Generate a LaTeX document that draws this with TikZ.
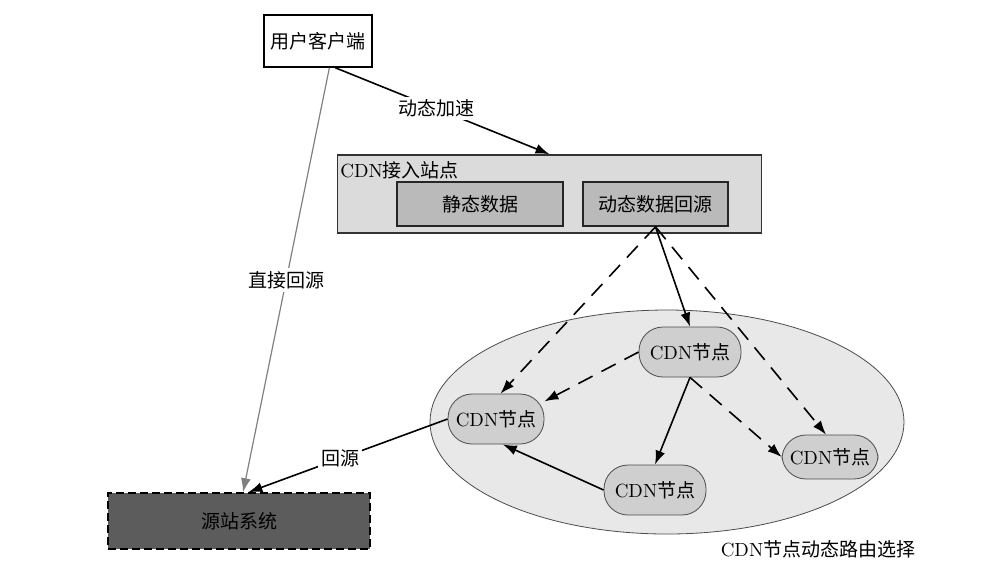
\documentclass[tikz,border=0pt]{standalone}
\usepackage{fontspec}
\newfontfamily\cjk{Noto Sans CJK SC}
\usetikzlibrary{shapes.geometric,arrows.meta}
\begin{document}
\begin{tikzpicture}[x=0.5pt,y=-0.5pt,
        every node/.style={font=\fontsize{9.5}{11}\selectfont},
        plainbox/.style={rectangle, draw=black, thick, fill=white, minimum width=53pt, minimum height=26pt},
        sitebox/.style={rectangle, draw=black!80, thick, fill=black!14, minimum width=212pt, minimum height=39pt},
        databox/.style={rectangle, draw=black!85, thick, fill=black!27, minimum height=22pt},
        cdnnode/.style={rectangle, rounded corners=12pt, draw=black!70, fill=black!19, minimum width=49pt, minimum height=25pt},
        netcloud/.style={ellipse, draw=black!70, fill=black!9, minimum width=237pt, minimum height=112pt, inner sep=0pt},
        originbox/.style={rectangle, draw=black, thick, dashed, dash pattern=on 4pt off 2pt, fill=black!64, minimum width=131pt, minimum height=28pt},
        tip/.style={-{Latex[length=7pt,width=5pt]}},
        dashlink/.style={tip, thick, dash pattern=on 8pt off 5pt},
        onlabel/.style={fill=white, inner sep=1.5pt},
    ]
        \useasboundingbox (0,0) rectangle (1000,570);

        %Nodes
        \node[plainbox] (user) at (318,41) {\cjk 用户客户端};

        \node[sitebox] (site) at (549.5,194) {};
        \node[anchor=north west, inner sep=0pt] (sitelabel) at (340,161) {CDN\cjk 接入站点};
        \node[databox, minimum width=83pt] (static) at (480,204) {\cjk 静态数据};
        \node[databox, minimum width=72.5pt] (dyn) at (655.5,204) {\cjk 动态数据回源};

        \node[netcloud] (cloud) at (667,422) {};
        \node[cdnnode, minimum width=51pt] (ntop) at (690,352) {CDN\cjk 节点};
        \node[cdnnode, minimum width=48pt] (nleft) at (496,419) {CDN\cjk 节点};
        \node[cdnnode, minimum width=51pt] (nbottom) at (655,490) {CDN\cjk 节点};
        \node[cdnnode, minimum width=48pt, minimum height=22pt] (nright) at (830,457) {CDN\cjk 节点};

        \node[originbox] (origin) at (239,521) {\cjk 源站系统};

        \node (caption) at (818,549) {CDN\cjk 节点动态路由选择};

        %Lines
        \draw[tip, thick] (user.-57) -- node[onlabel, pos=0.47]{\cjk 动态加速} (site.north);
        \draw[tip, gray, semithick] (user.-67) -- node[onlabel, text=black, pos=0.5]{\cjk 直接回源} (origin.82);
        \draw[tip, thick] (nleft.west) -- node[onlabel, pos=0.54]{\cjk 回源} (origin.72);

        \draw[tip, thick] (dyn.south) -- (ntop.north);
        \draw[dashlink] (dyn.south) -- (nleft.80);
        \draw[dashlink] (dyn.south) -- (nright.100);

        \draw[tip, thick] (ntop.south) -- (nbottom.north);
        \draw[dashlink] (ntop.west) -- (nleft.20);
        \draw[dashlink] (ntop.south) -- (nright.west);
        \draw[tip, thick] (nbottom.west) -- (nleft.-75);
    \end{tikzpicture}
\end{document}
